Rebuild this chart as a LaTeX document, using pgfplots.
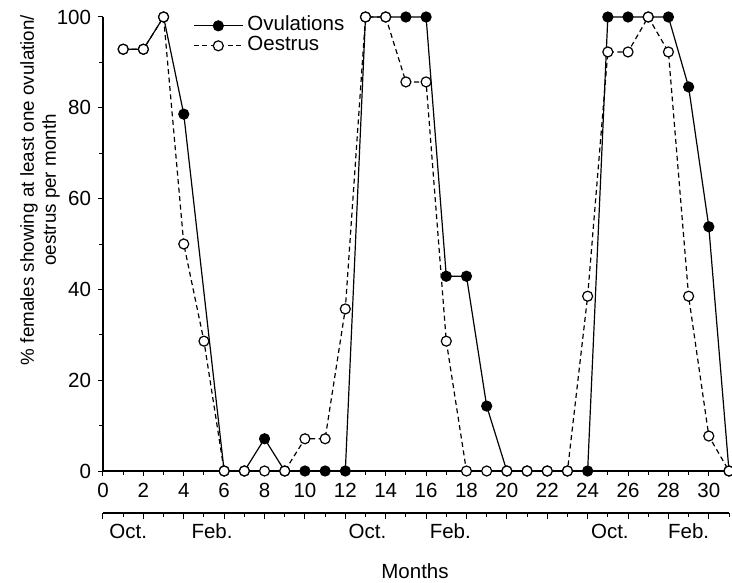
\documentclass[border=0pt]{standalone}
\usepackage{fontspec}
\setmainfont{Liberation Sans}
\usepackage{pgfplots}
\pgfplotsset{compat=1.18}
\begin{document}
\fontsize{20.5}{23}\selectfont
\begin{tikzpicture}[font=\fontsize{20.5}{23}\selectfont]
\begin{axis}[
  at={(0pt,0pt)}, anchor=south west, scale only axis,
  width=626pt, height=454pt,
  xmin=0, xmax=31, ymin=0, ymax=100,
  axis x line*=bottom, axis y line*=left,
  axis line style={-, line width=1.2pt},
  xtick={0,2,...,30}, minor xtick={1,3,...,31},
  ytick={0,20,...,100}, minor ytick={10,30,...,90},
  tick align=outside, major tick length=5pt, minor tick length=3.5pt,
  every tick/.style={black, line width=1pt},
  /pgf/number format/assume math mode=true,
  clip=false,
  legend cell align=left,
  legend style={at={(0.1438,1.003)}, anchor=north west, draw=none, fill=none,
    inner sep=0pt, row sep=0pt,
    nodes={inner ysep=0pt, inner xsep=4pt, text height=14.5pt, text depth=5.5pt, anchor=west}},
  legend image code/.code={\draw[mark repeat=2,mark phase=2,#1] plot coordinates {(0pt,0pt) (24.5pt,0pt) (49pt,0pt)};},
]
\addplot[black, line width=1.2pt, mark=*, mark size=5pt, mark options={solid, fill=black}]
 coordinates {(1,92.9)(2,92.9)(3,100)(4,78.6)(6,0)(7,0)(8,7.1)(9,0)(10,0)(11,0)(12,0)
 (13,100)(14,100)(15,100)(16,100)(17,42.9)(18,42.9)(19,14.3)(20,0)(21,0)(22,0)(23,0)(24,0)
 (25,100)(26,100)(27,100)(28,100)(29,84.6)(30,53.8)(31,0)};
\addlegendentry{Ovulations}
\addplot[black, line width=1.2pt, dash pattern=on 5pt off 3.5pt, mark=*, mark size=5pt, mark options={solid, fill=white, draw=black}]
 coordinates {(1,92.9)(2,92.9)(3,100)(4,50)(5,28.6)(6,0)(7,0)(8,0)(9,0)(10,7.1)(11,7.1)(12,35.7)
 (13,100)(14,100)(15,85.7)(16,85.7)(17,28.6)(18,0)(19,0)(20,0)(21,0)(22,0)(23,0)(24,38.5)
 (25,92.3)(26,92.3)(27,100)(28,92.3)(29,38.5)(30,7.7)(31,0)};
\addlegendentry{Oestrus}
\end{axis}
\begin{axis}[
  at={(0pt,-42pt)}, anchor=south west, scale only axis,
  width=626pt, height=10pt,
  xmin=0, xmax=31, ymin=0, ymax=1,
  axis x line*=bottom, axis y line=none,
  axis line style={-, line width=1.2pt},
  xtick={0,2,...,30}, minor xtick={1,3,...,31}, xticklabels={}, ytick=\empty,
  tick align=outside, major tick length=6pt, minor tick length=4pt,
  every tick/.style={black, line width=1pt},
  extra x ticks={1.25,5.4,13.1,17.2,25.1,29.0},
  extra x tick labels={Oct.,Feb.,Oct.,Feb.,Oct.,Feb.},
  extra x tick style={major tick length=0pt, every tick/.style={draw=none}, xticklabel style={yshift=-4pt}},
]
\addplot[draw=none] coordinates {(0,0)};
\end{axis}
\node at (312pt,-100pt) {Months};
\node[rotate=90, align=center, font=\fontsize{18.8}{22}\selectfont] at (-63pt,281pt) {\% females showing at least one ovulation/\\oestrus per month};
\pgfresetboundingbox
\useasboundingbox (-103pt,-111pt) rectangle (629pt,471pt);
\end{tikzpicture}
\end{document}
